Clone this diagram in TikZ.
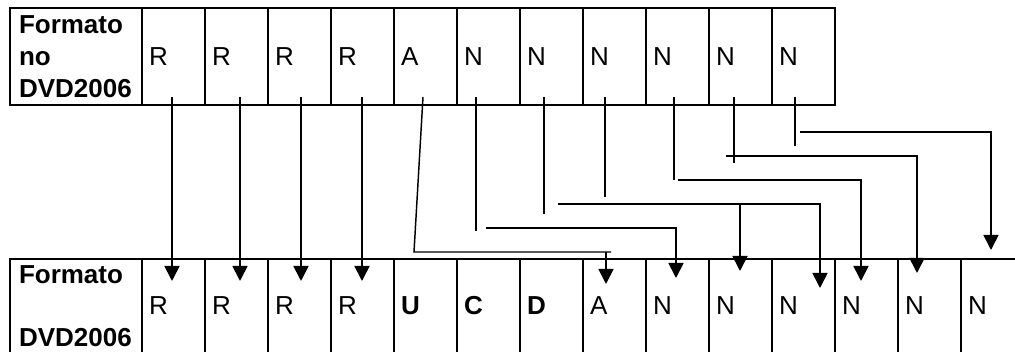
\documentclass[tikz,border=0pt]{standalone}
\usepackage{fontspec}
\setmainfont{Liberation Sans}
\usetikzlibrary{arrows.meta,calc}
\begin{document}
\begin{tikzpicture}[x=0.75pt,y=-0.75pt,
  cellbase/.style={draw, line width=1.5pt, anchor=north west, outer sep=0pt,
    inner ysep=0pt, align=left, font=\fontsize{19.5}{23.8}\selectfont},
  tcell/.style={cellbase, minimum height=72.75pt},
  bcell/.style={cellbase, minimum height=70.5pt},
  vcell/.style={minimum width=47.25pt, inner xsep=5.25pt, text width=36.75pt},
  lcell/.style={minimum width=99pt, inner xsep=6.75pt, text width=85.5pt,
    font=\fontsize{19.5}{23.8}\selectfont\bfseries},
  ln/.style={line width=1.1pt},
  arr/.style={line width=1.3pt, -{Triangle[length=11.25pt,width=11.25pt]}}
]
\useasboundingbox (0,0) rectangle (1015,352);

% top table
\node[tcell,lcell] (t0) at (10,8) {Formato\\no\\DVD2006};
\foreach \l [count=\i] in {R,R,R,R,A,N,N,N,N,N,N}
  \node[tcell,vcell] (t\i) at ({142+63*(\i-1)},8) {\l};

% bottom table
\node[bcell,lcell] (b0) at (10,259) {Formato\\\mbox{}\\DVD2006};
\foreach \l [count=\i] in {R,R,R,R,{\textbf{U}},{\textbf{C}},{\textbf{D}},A,N,N,N,N,N,N}
  \node[bcell,vcell] (b\i) at ({142+63*(\i-1)},259) {\l};

% R -> R
\draw[arr] ($(t1.south west)+(30,-8)$) -- ($(b1.north west)+(30,22)$);
\draw[arr] ($(t2.south west)+(35,-8)$) -- ($(b2.north west)+(35,22)$);
\draw[arr] ($(t3.south west)+(33,-8)$) -- ($(b3.north west)+(33,22)$);
\draw[arr] ($(t4.south west)+(31,-8)$) -- ($(b4.north west)+(31,22)$);

% A -> A
\draw[ln] ($(t5.south west)+(29,-8)$) -- ($(b5.north west)+(20,-7)$) -- ($(b8.north west)+(28,-7)$);
\draw[arr] ($(b8.north west)+(23,-7)$) -- ($(b8.north west)+(23,25)$);

% N1 -> b9
\draw[ln] ($(t6.south west)+(19,-8)$) -- ($(t6.south west)+(19,126)$);
\draw[arr] ($(t6.south west)+(29,123)$) -| ($(b9.north west)+(30,19)$);

% N2 -> b11
\draw[ln] ($(t7.south west)+(24,-8)$) -- ($(t7.south west)+(24,109)$);
\draw[arr] ($(t7.south west)+(38,99)$) -| ($(b11.north west)+(48,29)$);

% N3 -> b10
\draw[ln] ($(t8.south west)+(22,-8)$) -- ($(t8.south west)+(22,92)$);
\draw[arr] ($(t8.south west)+(47,99)$) -| ($(b10.north west)+(31,12)$);

% N4 -> b12
\draw[ln] ($(t9.south west)+(28,-8)$) -- ($(t9.south west)+(28,75)$);
\draw[arr] ($(t9.south west)+(32,75)$) -| ($(b12.north west)+(26,22)$);

% N5 -> b13
\draw[ln] ($(t10.south west)+(25,-8)$) -- ($(t10.south west)+(25,58)$);
\draw[arr] ($(t10.south west)+(17,51)$) -| ($(b13.north west)+(19,14)$);

% N6 -> b14
\draw[ln] ($(t11.south west)+(23,-8)$) -- ($(t11.south west)+(23,41)$);
\draw[arr] ($(t11.south west)+(28,27)$) -| ($(b14.north west)+(30,-9)$);
\end{tikzpicture}
\end{document}
